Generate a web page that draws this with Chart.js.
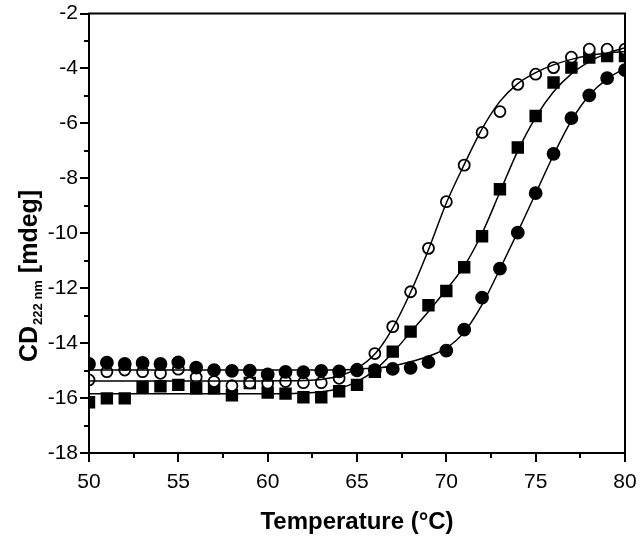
<!DOCTYPE html>
<html>
<head>
<meta charset="utf-8">
<script src="https://cdn.jsdelivr.net/npm/chart.js@4.4.0/dist/chart.umd.min.js"></script>
<style>
  html, body { margin: 0; padding: 0; background: #fff; }
  #wrap { width: 641px; height: 539px; position: relative; }
</style>
</head>
<body>
<div id="wrap"><canvas id="chart"></canvas></div>
<script>
// temperature (°C), one reading per degree
const temps = [50, 51, 52, 53, 54, 55, 56, 57, 58, 59, 60, 61, 62, 63, 64, 65,
  66, 67, 68, 69, 70, 71, 72, 73, 74, 75, 76, 77, 78, 79, 80];

// measured CD222 (mdeg)
const openCircles = [-15.34, -15.04, -14.98, -15.04, -15.10, -14.95, -15.24, -15.40, -15.55, -15.45,
  -15.46, -15.40, -15.44, -15.44, -15.28, -14.95, -14.38, -13.40, -12.13, -10.55,
  -8.85, -7.52, -6.33, -5.57, -4.58, -4.21, -3.97, -3.59, -3.30, -3.30, -3.30];
const filledSquares = [-16.15, -16.01, -16.01, -15.60, -15.57, -15.52, -15.64, -15.64, -15.90, -15.45,
  -15.80, -15.84, -15.97, -15.97, -15.75, -15.52, -15.04, -14.31, -13.58, -12.62,
  -12.10, -11.24, -10.11, -8.40, -6.88, -5.73, -4.51, -3.97, -3.60, -3.55, -3.55];
const filledCircles = [-14.76, -14.71, -14.76, -14.72, -14.76, -14.70, -14.89, -14.98, -15.01, -15.00,
  -15.14, -15.05, -15.06, -15.01, -15.03, -14.99, -14.98, -14.94, -14.90, -14.69,
  -14.27, -13.51, -12.34, -11.29, -9.98, -8.54, -7.11, -5.81, -4.98, -4.35, -4.06];

// fitted curves at the same temperatures
const openFit = [-15.38, -15.38, -15.38, -15.38, -15.38, -15.38, -15.38, -15.38, -15.38, -15.38,
  -15.38, -15.37, -15.36, -15.32, -15.20, -14.92, -14.40, -13.45, -12.15, -10.60,
  -8.90, -7.50, -6.20, -5.20, -4.55, -4.15, -3.87, -3.67, -3.53, -3.44, -3.38];
const squareFit = [-15.84, -15.84, -15.84, -15.84, -15.84, -15.84, -15.84, -15.84, -15.84, -15.84,
  -15.84, -15.84, -15.82, -15.77, -15.65, -15.40, -14.98, -14.35, -13.60, -12.85,
  -12.05, -11.20, -10.00, -8.50, -7.00, -5.78, -4.85, -4.20, -3.75, -3.45, -3.25];
const filledFit = [-14.98, -14.98, -14.98, -14.98, -14.98, -14.98, -14.98, -14.98, -14.98, -14.98,
  -14.98, -14.98, -14.98, -14.98, -14.97, -14.95, -14.91, -14.83, -14.68, -14.48,
  -14.18, -13.60, -12.60, -11.30, -9.95, -8.55, -7.15, -5.90, -4.98, -4.38, -4.00];

const xMin = 50, xMax = 80, xStep = 2.5, xLabelEvery = 5;
const yMin = -18, yMax = -2, yStep = 1, yLabelEvery = 2;

const FONT = "'Liberation Sans', Arial, Helvetica, sans-serif";

const pts = (ys) => temps.map((t, i) => ({x: t, y: ys[i]}));

const markerSet = (label, ys, style, fill, radius, order) => ({
  label,
  data: pts(ys),
  showLine: false,
  pointStyle: style,
  pointRadius: radius,
  pointHoverRadius: radius,
  pointBackgroundColor: fill,
  pointBorderColor: '#000',
  pointBorderWidth: 1.8,
  clip: 0,
  order
});

const fitSet = (label, ys) => ({
  label,
  data: pts(ys),
  borderColor: '#000',
  borderWidth: 1.5,
  pointRadius: 0,
  cubicInterpolationMode: 'monotone',
  fill: false,
  clip: 0,
  order: 0
});

// frame + outward ticks (major long, minor short)
const frameTicks = {
  id: 'frameTicks',
  afterDatasetsDraw (chart) {
    const {ctx, chartArea: a, scales: {x, y}} = chart;
    ctx.save();
    ctx.strokeStyle = '#000';
    ctx.lineWidth = 2;
    ctx.strokeRect(a.left, a.top, a.right - a.left, a.bottom - a.top);
    ctx.beginPath();
    x.ticks.forEach(t => {
      const px = Math.round(x.getPixelForValue(t.value));
      const len = t.value % xLabelEvery === 0 ? 9 : 5;
      ctx.moveTo(px, a.bottom);
      ctx.lineTo(px, a.bottom + len);
    });
    y.ticks.forEach(t => {
      const py = Math.round(y.getPixelForValue(t.value));
      const len = t.value % yLabelEvery === 0 ? 9 : 5;
      ctx.moveTo(a.left, py);
      ctx.lineTo(a.left - len, py);
    });
    ctx.stroke();
    ctx.restore();
  }
};

// y title with subscript: CD_222 nm [mdeg]
const yTitle = {
  id: 'yTitle',
  afterDraw (chart) {
    const {ctx} = chart;
    const big = `bold 25px ${FONT}`;
    const small = `bold 13px ${FONT}`;
    ctx.save();
    ctx.translate(37, 362);
    ctx.rotate(-Math.PI / 2);
    ctx.fillStyle = '#000';
    ctx.textBaseline = 'alphabetic';
    ctx.textAlign = 'left';
    let u = 0;
    ctx.font = big;
    ctx.fillText('CD', u, 0);
    u += ctx.measureText('CD').width + 1;
    ctx.font = small;
    ctx.fillText('222 nm', u, 5);
    u += ctx.measureText('222 nm').width;
    ctx.font = big;
    ctx.fillText(' [mdeg]', u, 0);
    ctx.restore();
  }
};

new Chart(document.getElementById('chart'), {
  type: 'line',
  data: {
    datasets: [
      fitSet('open fit', openFit),
      fitSet('square fit', squareFit),
      fitSet('filled fit', filledFit),
      markerSet('filled circles', filledCircles, 'circle', '#000', 6, 1),
      markerSet('open circles', openCircles, 'circle', '#fff', 5.5, 2),
      markerSet('squares', filledSquares, 'rect', '#000', 7.5, 3)
    ]
  },
  options: {
    responsive: true,
    maintainAspectRatio: false,
    animation: false,
    layout: {padding: {top: 13.5, right: 16, left: 0, bottom: 0}},
    plugins: {
      legend: {display: false},
      tooltip: {enabled: false}
    },
    scales: {
      x: {
        type: 'linear',
        min: xMin,
        max: xMax,
        afterFit: (s) => { s.height = 86; s.paddingLeft = 0; s.paddingRight = 0; },
        grid: {display: true, drawOnChartArea: false, drawTicks: false},
        border: {display: false},
        ticks: {
          stepSize: xStep,
          autoSkip: false,
          maxRotation: 0,
          padding: 17,
          color: '#000',
          font: {family: FONT, size: 21},
          callback: (v) => (v % xLabelEvery === 0 ? v : '')
        },
        title: {
          display: true,
          text: 'Temperature (°C)',
          color: '#000',
          font: {family: FONT, size: 24, weight: 'bold'},
          padding: {top: 0, bottom: 2}
        }
      },
      y: {
        type: 'linear',
        min: yMin,
        max: yMax,
        afterFit: (s) => { s.width = 89; s.paddingTop = 0; s.paddingBottom = 0; },
        grid: {display: true, drawOnChartArea: false, drawTicks: false},
        border: {display: false},
        ticks: {
          stepSize: yStep,
          autoSkip: false,
          padding: 11,
          color: '#000',
          font: {family: FONT, size: 21},
          callback: (v) => (v % yLabelEvery === 0 ? v : '')
        }
      }
    }
  },
  plugins: [frameTicks, yTitle]
});
</script>
</body>
</html>
